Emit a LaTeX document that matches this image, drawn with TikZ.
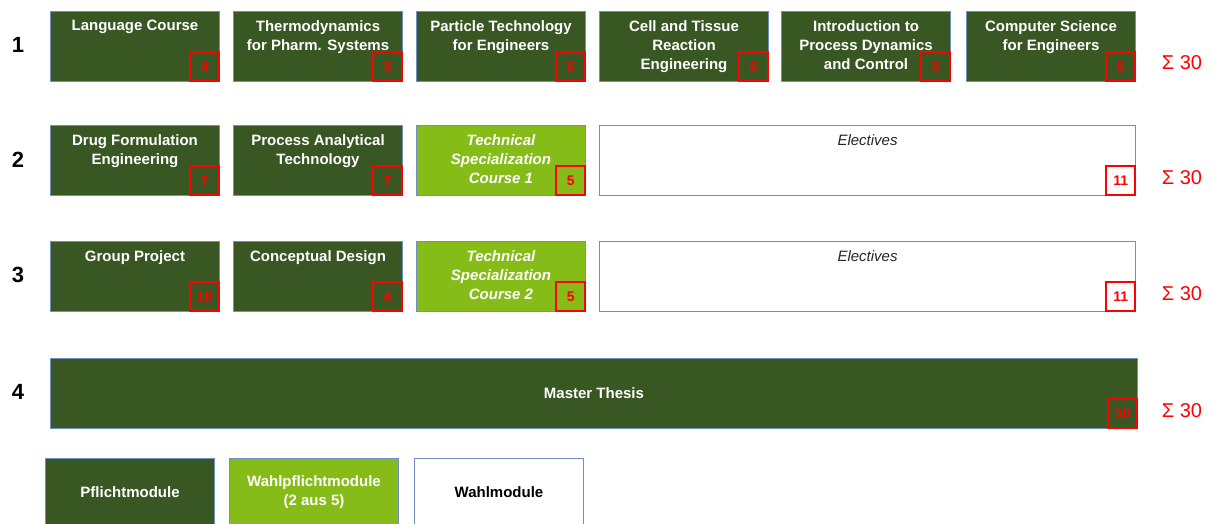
\documentclass[tikz,border=0pt]{standalone}
\usepackage{fontspec}
\setmainfont{Liberation Sans}
\definecolor{dg}{HTML}{385723}
\definecolor{lg}{HTML}{86BC18}
\definecolor{bord}{HTML}{6F8FC8}
\definecolor{rd}{HTML}{FF0000}
\tikzset{
  modbox/.style={draw=bord, line width=1pt, anchor=north west, minimum height=70, inner sep=0pt},
  must/.style={modbox, fill=dg},
  wpf/.style={modbox, fill=lg},
  free/.style={modbox, fill=white},
  modtext/.style={anchor=north, text=white, font=\fontsize{15}{19}\selectfont\bfseries, align=center, inner sep=0pt, yshift=-9},
  credit/.style={draw=rd, line width=1.6pt, anchor=south east, minimum width=29, minimum height=29, inner sep=0pt, text=rd, font=\fontsize{14}{16}\selectfont\bfseries},
  rowlab/.style={font=\fontsize{22}{24}\selectfont\bfseries},
  sumlab/.style={text=rd, font=\fontsize{20}{24}\selectfont},
}
\newcommand{\modul}[7]{%
  \node[#5, minimum width=#4] (#1) at (#2,#3) {};
  \node[modtext] (#1-t) at (#1.north) {#6};
  \node[credit] (#1-c) at (#1.south east) {#7};
}
\begin{document}
\begin{tikzpicture}[x=1pt,y=-1pt]
\useasboundingbox (0,0) rectangle (1214,523);
\clip (0,0) rectangle (1214,523);
% row labels
\node[rowlab] (r1) at (18,45) {1};
\node[rowlab] (r2) at (18,160) {2};
\node[rowlab] (r3) at (18,275) {3};
\node[rowlab] (r4) at (18,392) {4};
% row 1
\modul{a1}{50}{11}{169}{must}{Language Course}{4}
\modul{a2}{233}{11}{169}{must}{Thermodynamics\\for Pharm. Systems}{5}
\modul{a3}{416}{11}{169}{must}{Particle Technology\\for Engineers}{5}
\modul{a4}{599}{11}{169}{must}{Cell and Tissue\\Reaction\\Engineering}{6}
\modul{a5}{781}{11}{169}{must}{Introduction to\\Process Dynamics\\and Control}{5}
\modul{a6}{966}{11}{169}{must}{Computer Science\\for Engineers}{5}
% row 2
\modul{b1}{50}{125}{169}{must}{Drug Formulation\\Engineering}{7}
\modul{b2}{233}{125}{169}{must}{Process Analytical\\Technology}{7}
\modul{b3}{416}{125}{169}{wpf}{\itshape Technical\\\itshape Specialization\\\itshape Course 1}{5}
\node[free, minimum width=536] (b4) at (599,125) {};
\node[modtext, text=black!85, font=\fontsize{15}{19}\selectfont\itshape] (b4-t) at (b4.north) {Electives};
\node[credit] (b4-c) at (b4.south east) {11};
% row 3
\modul{c1}{50}{241}{169}{must}{Group Project}{10}
\modul{c2}{233}{241}{169}{must}{Conceptual Design}{4}
\modul{c3}{416}{241}{169}{wpf}{\itshape Technical\\\itshape Specialization\\\itshape Course 2}{5}
\node[free, minimum width=536] (c4) at (599,241) {};
\node[modtext, text=black!85, font=\fontsize{15}{19}\selectfont\itshape] (c4-t) at (c4.north) {Electives};
\node[credit] (c4-c) at (c4.south east) {11};
% row 4
\node[must, minimum width=1087] (d1) at (50,358) {};
\node[text=white, font=\fontsize{15}{19}\selectfont\bfseries] (d1-t) at (d1.center) {Master Thesis};
\node[credit] (d1-c) at (d1.south east) {30};
% sums
\node[sumlab] (s1) at (1182,63) {Σ 30};
\node[sumlab] (s2) at (1182,178) {Σ 30};
\node[sumlab] (s3) at (1182,294) {Σ 30};
\node[sumlab] (s4) at (1182,411) {Σ 30};
% legend
\node[must, minimum width=169, minimum height=68] (l1) at (45,458) {};
\node[text=white, font=\fontsize{15}{19}\selectfont\bfseries] (l1-t) at (l1.center) {Pflichtmodule};
\node[wpf, minimum width=169, minimum height=68] (l2) at (229,458) {};
\node[text=white, font=\fontsize{15}{19}\selectfont\bfseries, align=center] (l2-t) at (l2.center) {Wahlpflichtmodule\\(2 aus 5)};
\node[free, minimum width=169, minimum height=68] (l3) at (414,458) {};
\node[text=black, font=\fontsize{15}{19}\selectfont\bfseries] (l3-t) at (l3.center) {Wahlmodule};
\end{tikzpicture}
\end{document}
